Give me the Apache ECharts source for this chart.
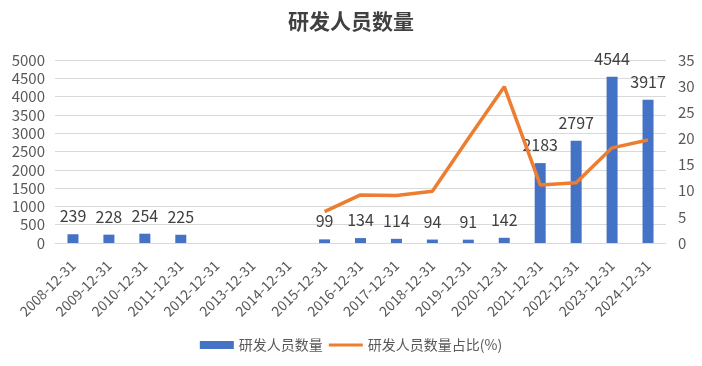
<!DOCTYPE html>
<html><head><meta charset="utf-8">
<script src="https://cdn.jsdelivr.net/npm/echarts@6/dist/echarts.min.js"></script>
<style>html,body{margin:0;padding:0;background:#fff}#c{width:702px;height:366px}</style>
</head><body><div id="c"></div>
<script>
var categories = ['2008-12-31','2009-12-31','2010-12-31','2011-12-31','2012-12-31','2013-12-31','2014-12-31','2015-12-31','2016-12-31','2017-12-31','2018-12-31','2019-12-31','2020-12-31','2021-12-31','2022-12-31','2023-12-31','2024-12-31'];
var staffCount = [239,228,254,225,null,null,null,99,134,114,94,91,142,2183,2797,4544,3917];
var staffRatio = [null,null,null,null,null,null,null,6.0,9.2,9.1,9.9,20.0,29.9,11.1,11.5,18.2,19.7];
var leftTicks = {min:0,max:5000,interval:500};
var rightTicks = {min:0,max:35,interval:5};
var font = '"Microsoft YaHei","Noto Sans CJK SC",sans-serif';
var chart = echarts.init(document.getElementById('c'));
chart.setOption({
  animation:false,
  textStyle:{fontFamily:font},
  title:{text:'研发人员数量',left:'center',top:6,textStyle:{fontSize:21,fontWeight:'bold',color:'#404040',fontFamily:font}},
  legend:{bottom:9,itemGap:6,itemWidth:34,itemHeight:8,textStyle:{fontSize:14,color:'#595959',fontFamily:font},
    data:[{name:'研发人员数量',icon:'rect'},{name:'研发人员数量占比(%)',icon:'path://M0,0H36V3H0Z'}]},
  grid:{left:55,right:36,top:60,bottom:123},
  xAxis:{type:'category',data:categories,axisTick:{show:false},
    axisLine:{lineStyle:{color:'#d9d9d9'}},
    axisLabel:{rotate:45,interval:0,fontSize:14,color:'#595959',margin:20}},
  yAxis:[
    {type:'value',min:leftTicks.min,max:leftTicks.max,interval:leftTicks.interval,
     axisLabel:{fontSize:15,color:'#595959',margin:10,formatter:function(v){return String(v);}},
     splitLine:{lineStyle:{color:'#d9d9d9'}},axisLine:{show:false},axisTick:{show:false}},
    {type:'value',min:rightTicks.min,max:rightTicks.max,interval:rightTicks.interval,
     axisLabel:{fontSize:15,color:'#595959',margin:12},
     splitLine:{show:false},axisLine:{show:false},axisTick:{show:false}}
  ],
  series:[
    {name:'研发人员数量',type:'bar',data:staffCount,barWidth:11,itemStyle:{color:'#4472C4'},
     label:{show:true,position:'top',distance:10,fontSize:16,color:'#404040'}},
    {name:'研发人员数量占比(%)',type:'line',yAxisIndex:1,data:staffRatio,showSymbol:false,symbol:'none',
     connectNulls:false,lineStyle:{color:'#ED7D31',width:3.5},itemStyle:{color:'#ED7D31'}}
  ]
});
</script></body></html>
